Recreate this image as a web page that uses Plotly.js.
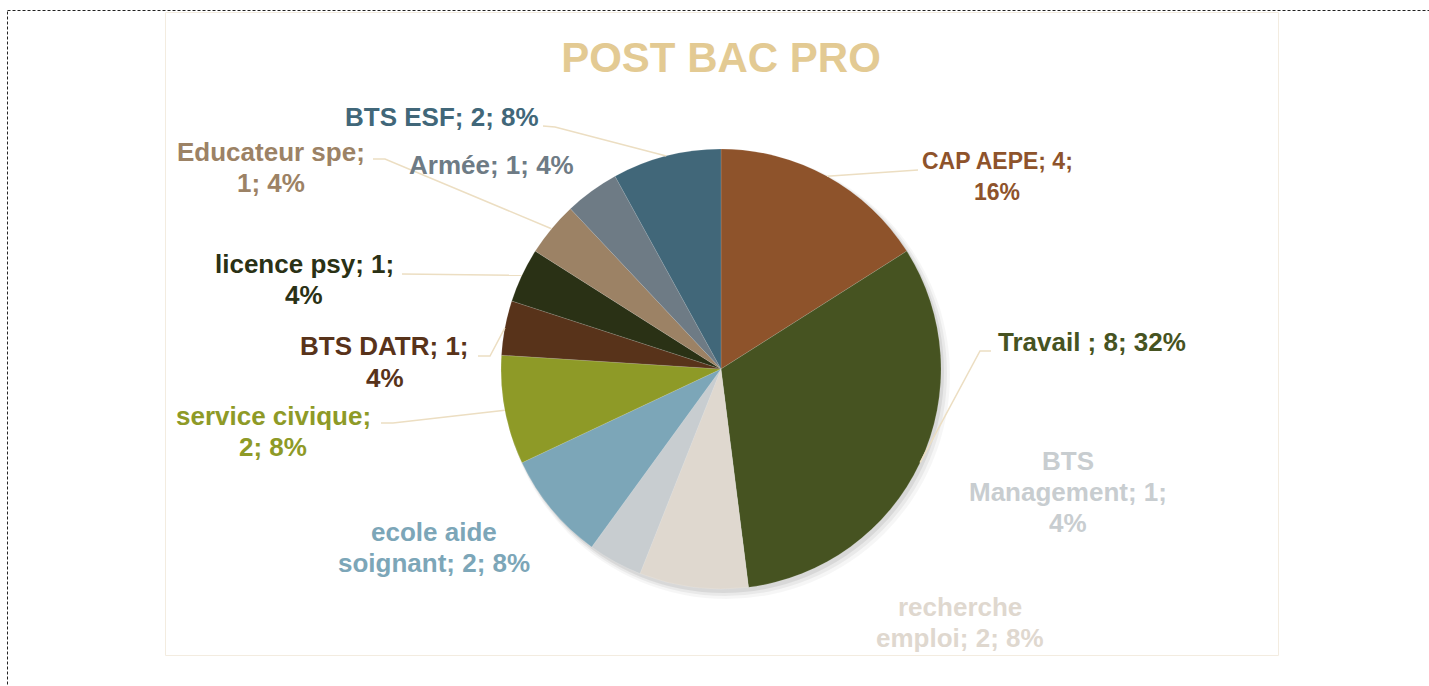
<!DOCTYPE html>
<html>
<head>
<meta charset="utf-8">
<script src="https://cdn.plot.ly/plotly-3.0.1.min.js"></script>
<style>
  html, body { margin: 0; padding: 0; background: #fff; }
  #chart { width: 1429px; height: 686px; }
</style>
</head>
<body>
<div id="chart"></div>
<script>
// data
var categories = ["CAP AEPE", "Travail ", "recherche emploi", "BTS Management", "ecole aide soignant",
                  "service civique", "BTS DATR", "licence psy", "Educateur spe", "Armée", "BTS ESF"];
var counts = [4, 8, 2, 1, 2, 2, 1, 1, 1, 1, 2];
var percents = [16, 32, 8, 4, 8, 8, 4, 4, 4, 4, 8];
var sliceColors = ["#8e532b", "#465321", "#dfd8cf", "#c8cdd0", "#7ca6b8",
                   "#8e9a27", "#58331a", "#2a3115", "#9c8265", "#6e7b85", "#416779"];

// how each data label wraps (text built from the arrays above)
var labelLines = [
  [categories[0] + "; " + counts[0] + ";", percents[0] + "%"],
  [categories[1] + "; " + counts[1] + "; " + percents[1] + "%"],
  ["recherche", "emploi; " + counts[2] + "; " + percents[2] + "%"],
  ["BTS", "Management; " + counts[3] + ";", percents[3] + "%"],
  ["ecole aide", "soignant; " + counts[4] + "; " + percents[4] + "%"],
  ["service civique;", counts[5] + "; " + percents[5] + "%"],
  [categories[6] + "; " + counts[6] + ";", percents[6] + "%"],
  [categories[7] + "; " + counts[7] + ";", percents[7] + "%"],
  [categories[8] + ";", counts[8] + "; " + percents[8] + "%"],
  [categories[9] + "; " + counts[9] + "; " + percents[9] + "%"],
  [categories[10] + "; " + counts[10] + "; " + percents[10] + "%"]
];

// layout (pixels)
var W = 1429, H = 686;
var cx = 721, cy = 369, R = 220;
var labelPos = [[997, 177], [1092, 342], [960, 622], [1068, 492], [434, 547],
                [273, 431], [385, 362], [304, 279], [271, 167], [491, 165], [442, 117]];
var labelSize = [23, 26, 26, 26, 26, 26, 26, 26, 26, 26, 26];
// leader line points from the label side; the slice end is added below
var leaderStart = [
  [[918, 170]],
  [[991, 351], [980, 351]],
  null, null, null,
  [[381, 423], [393, 423]],
  [[478, 356], [490, 356]],
  [[402, 274]],
  [[373, 159], [385, 159]],
  null,
  [[543, 126], [555, 127]]
];

function px(x) { return x / W; }
function py(y) { return 1 - y / H; }

var font = "Liberation Sans, Arial, sans-serif";
var leaderColor = "#ecdec2";

var annotations = [];
var shapes = [];

// outer dashed frame and chart border
shapes.push({type: "rect", xref: "paper", yref: "paper", layer: "below",
  x0: px(7.5), x1: px(1440), y0: py(10.5), y1: py(700),
  line: {color: "#222", width: 1, dash: "3px,2px"}});
shapes.push({type: "rect", xref: "paper", yref: "paper", layer: "below",
  x0: px(165.5), x1: px(1278.5), y0: py(12.5), y1: py(655.5),
  line: {color: "#f3ece0", width: 1}});

// soft shadow behind the pie
[[9, 0.035], [6, 0.05], [3, 0.07]].forEach(function (s) {
  shapes.push({type: "circle", xref: "paper", yref: "paper", layer: "below",
    x0: px(cx - R + 2), x1: px(cx + R + s[0]),
    y0: py(cy + R + s[0] + 1), y1: py(cy - R + 2),
    fillcolor: "rgba(0,0,0," + s[1] + ")", line: {width: 0}});
});

var total = counts.reduce(function (a, b) { return a + b; }, 0);
var cum = 0;
for (var i = 0; i < counts.length; i++) {
  var mid = (cum + counts[i] / 2) / total * 2 * Math.PI;
  cum += counts[i];
  var ax = cx + R * Math.sin(mid), ay = cy - R * Math.cos(mid);

  var lines = labelLines[i];
  for (var j = 0; j < lines.length; j++) {
    var ly = labelPos[i][1] + (j - (lines.length - 1) / 2) * 31;
    annotations.push({
      text: lines[j], x: px(labelPos[i][0]), y: py(ly), xref: "paper", yref: "paper",
      xanchor: "center", yanchor: "middle", showarrow: false,
      font: {family: font, size: labelSize[i], color: sliceColors[i], weight: "bold"}
    });
  }

  if (leaderStart[i]) {
    var pts = leaderStart[i].concat([[ax, ay]]);
    var path = pts.map(function (p, k) {
      return (k ? "L" : "M") + px(p[0]).toFixed(5) + "," + py(p[1]).toFixed(5);
    }).join(" ");
    shapes.push({type: "path", xref: "paper", yref: "paper", layer: "above", path: path,
      line: {color: leaderColor, width: 1.5}});
  }
}

var trace = {
  type: "pie",
  labels: categories,
  values: counts,
  sort: false,
  direction: "clockwise",
  rotation: 0,
  textinfo: "none",
  hoverinfo: "none",
  marker: {colors: sliceColors, line: {color: "rgba(255,255,255,0.25)", width: 0.5}},
  domain: {x: [px(cx - R), px(cx + R)], y: [py(cy + R), py(cy - R)]},
  showlegend: false
};

var layout = {
  width: W, height: H,
  margin: {l: 0, r: 0, t: 0, b: 0},
  paper_bgcolor: "#fff",
  title: {
    text: "POST BAC PRO", x: px(721), xanchor: "center",
    y: py(57), yanchor: "middle", yref: "container",
    font: {family: font, size: 42, color: "#e3ca93", weight: "bold"}
  },
  annotations: annotations,
  shapes: shapes
};

Plotly.newPlot("chart", [trace], layout, {staticPlot: true});
</script>
</body>
</html>
